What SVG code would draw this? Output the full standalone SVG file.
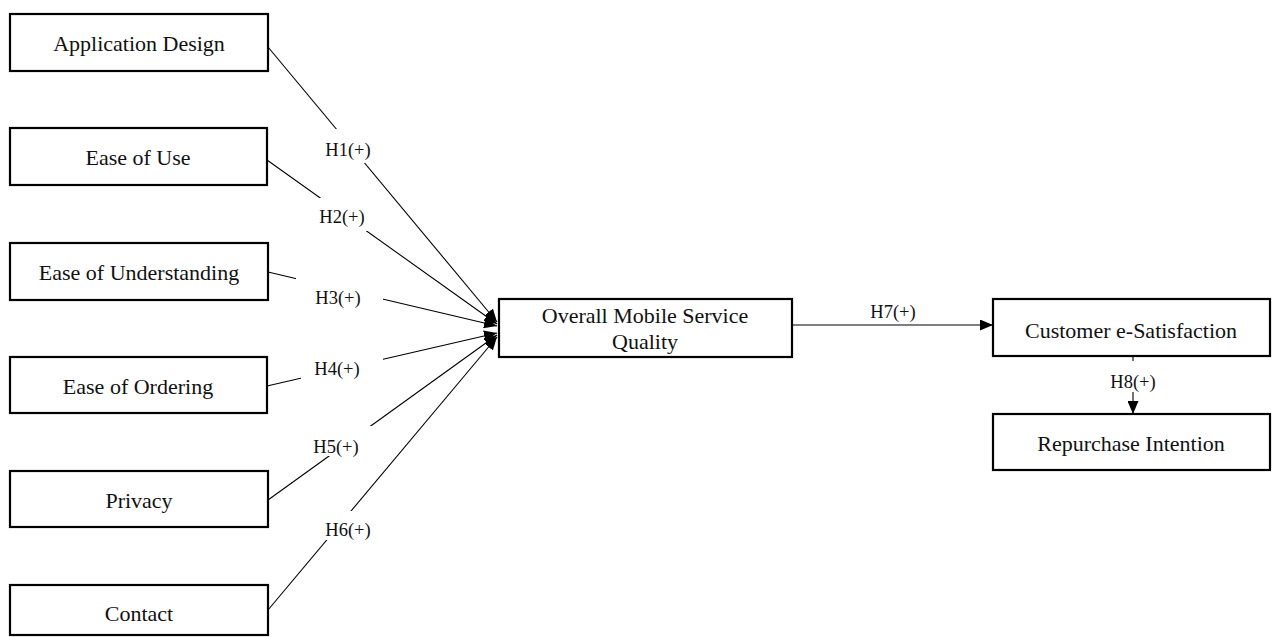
<svg xmlns="http://www.w3.org/2000/svg" width="1284" height="637" viewBox="0 0 1284 637">
<style>
.box{fill:#fff;stroke:#000;stroke-width:2.2}
.t{font-family:"Liberation Serif","Times New Roman",serif;font-size:22px;fill:#111;text-anchor:middle;dominant-baseline:central}
.lbl{font-family:"Liberation Serif","Times New Roman",serif;font-size:18.5px;fill:#111;text-anchor:middle;dominant-baseline:central}
.c{stroke:#000;stroke-width:1.1;fill:none}
.bg{fill:#fff;stroke:none}
</style>
<defs>
<marker id="ah" viewBox="0 0 13 11" refX="13" refY="5.5" markerWidth="13" markerHeight="11" markerUnits="userSpaceOnUse" orient="auto">
<path d="M0,0 L13,5.5 L0,11 z" fill="#000"/>
</marker>
</defs>
<g id="connectors">
<line class="c" x1="268" y1="47" x2="497" y2="322" marker-end="url(#ah)"/>
<line class="c" x1="267" y1="160" x2="497" y2="324" marker-end="url(#ah)"/>
<line class="c" x1="268" y1="272" x2="497" y2="326" marker-end="url(#ah)"/>
<line class="c" x1="267" y1="386" x2="497" y2="333" marker-end="url(#ah)"/>
<line class="c" x1="268" y1="500" x2="497" y2="335" marker-end="url(#ah)"/>
<line class="c" x1="268" y1="610" x2="497" y2="337" marker-end="url(#ah)"/>
<line class="c" x1="792" y1="325" x2="993" y2="325" marker-end="url(#ah)"/>
<line class="c" x1="1133" y1="357" x2="1133" y2="414" marker-end="url(#ah)"/>
</g>
<g id="labels">
<rect class="bg" x="318" y="129" width="60" height="34"/>
<text class="lbl" x="348" y="150">H1(+)</text>
<rect class="bg" x="312" y="198" width="60" height="33"/>
<text class="lbl" x="342" y="217">H2(+)</text>
<rect class="bg" x="296" y="276" width="87" height="34"/>
<text class="lbl" x="338" y="298">H3(+)</text>
<rect class="bg" x="301" y="355" width="82" height="30"/>
<text class="lbl" x="337" y="369">H4(+)</text>
<rect class="bg" x="316" y="426" width="62" height="30"/>
<text class="lbl" x="336" y="447">H5(+)</text>
<rect class="bg" x="316" y="511" width="62" height="29"/>
<text class="lbl" x="348" y="530">H6(+)</text>
<text class="lbl" x="893" y="312">H7(+)</text>
<rect class="bg" x="1108" y="361" width="50" height="31"/>
<text class="lbl" x="1133" y="382">H8(+)</text>
</g>
<g id="n-appdesign"><rect class="box" x="10" y="14" width="258" height="57"/><text class="t" x="139" y="43">Application Design</text></g>
<g id="n-easeuse"><rect class="box" x="10" y="128" width="257" height="57"/><text class="t" x="138" y="157">Ease of Use</text></g>
<g id="n-easeund"><rect class="box" x="10" y="243" width="258" height="57"/><text class="t" x="139" y="272">Ease of Understanding</text></g>
<g id="n-easeord"><rect class="box" x="10" y="357" width="257" height="56"/><text class="t" x="138" y="386">Ease of Ordering</text></g>
<g id="n-privacy"><rect class="box" x="10" y="471" width="258" height="56"/><text class="t" x="139" y="500">Privacy</text></g>
<g id="n-contact"><rect class="box" x="10" y="585" width="258" height="50"/><text class="t" x="139" y="613">Contact</text></g>
<g id="n-omsq"><rect class="box" x="499" y="299" width="293" height="58"/><text class="t" x="645" y="315">Overall Mobile Service</text><text class="t" x="645" y="341">Quality</text></g>
<g id="n-cesat"><rect class="box" x="993" y="299" width="277" height="57"/><text class="t" x="1131" y="330">Customer e-Satisfaction</text></g>
<g id="n-repurchase"><rect class="box" x="993" y="414" width="277" height="56"/><text class="t" x="1131" y="443">Repurchase Intention</text></g>
</svg>
